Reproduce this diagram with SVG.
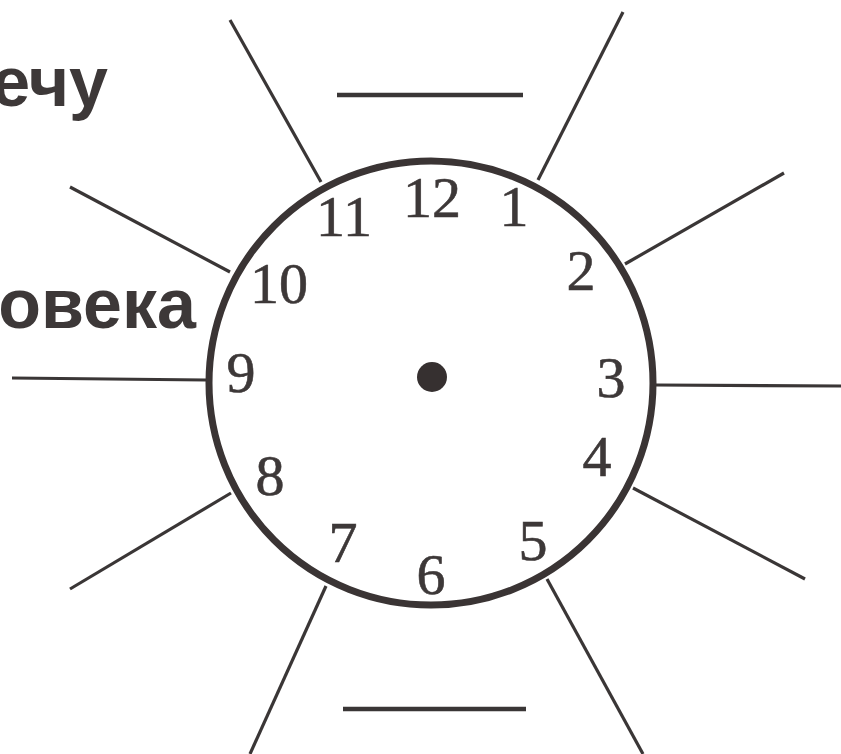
<svg xmlns="http://www.w3.org/2000/svg" width="841" height="754" viewBox="0 0 841 754">
<style>
.sp{stroke:#3a3636;stroke-width:3.2;stroke-linecap:butt;fill:none}
.num{font-family:"Liberation Serif","DejaVu Serif",serif;font-size:58px;fill:#3d3838;stroke:#3d3838;stroke-width:0.6;text-anchor:middle}
.lbl{font-family:"Liberation Sans","DejaVu Sans",sans-serif;font-weight:bold;font-size:70px;fill:#3d3838;text-anchor:end}
</style>
<rect width="841" height="754" fill="#ffffff"/>
<g id="labels">
<text class="lbl" x="108" y="106">ечу</text>
<text class="lbl" x="196" y="328">овека</text>
</g>
<g id="connectors">
<line class="sp" x1="337" y1="95" x2="523" y2="95" style="stroke-width:4.5"/>
<line class="sp" x1="343" y1="709" x2="526" y2="709" style="stroke-width:4.5"/>
<line class="sp" x1="321" y1="182" x2="230" y2="20"/>
<line class="sp" x1="538" y1="180" x2="623" y2="12"/>
<line class="sp" x1="230" y1="272" x2="70" y2="187"/>
<line class="sp" x1="625" y1="264" x2="784" y2="173"/>
<line class="sp" x1="206" y1="380" x2="12" y2="378"/>
<line class="sp" x1="656" y1="385" x2="841" y2="386"/>
<line class="sp" x1="231" y1="493" x2="70" y2="589"/>
<line class="sp" x1="633" y1="488" x2="805" y2="579"/>
<line class="sp" x1="326" y1="586" x2="250" y2="754"/>
<line class="sp" x1="547" y1="579" x2="643" y2="754"/>
</g>
<g id="clock">
<circle cx="431" cy="383" r="222" fill="none" stroke="#3a3434" stroke-width="7"/>
<circle cx="432" cy="377" r="15" fill="#363030"/>
</g>
<g id="numbers">
<text class="num" x="432" y="217">12</text>
<text class="num" x="344" y="236">11</text>
<text class="num" x="514" y="226">1</text>
<text class="num" x="581" y="290">2</text>
<text class="num" x="279" y="303">10</text>
<text class="num" x="241" y="392">9</text>
<text class="num" x="611" y="397">3</text>
<text class="num" x="597" y="476">4</text>
<text class="num" x="270" y="495">8</text>
<text class="num" x="343" y="562">7</text>
<text class="num" x="431" y="594">6</text>
<text class="num" x="533" y="560">5</text>
</g>
</svg>
